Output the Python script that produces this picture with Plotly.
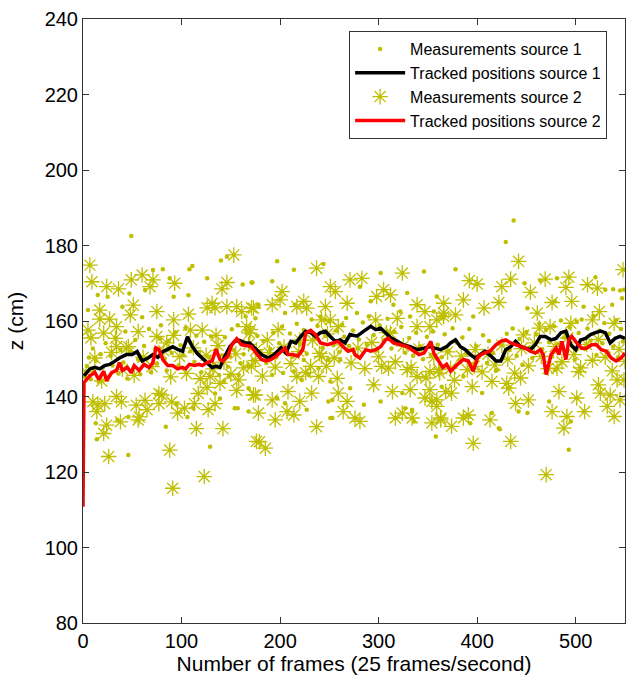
import plotly.graph_objects as go

# ---------------- data ----------------
# tracked positions, source 1 (black line): frame, z (cm)
track1_frame = [1, 7, 12, 17, 22, 27, 32, 37, 44, 50, 55, 60, 66, 71, 76, 81, 86, 91, 96, 101,
                106, 111, 116, 121, 126, 131, 135, 139, 144, 149, 154, 159, 164, 169, 174, 181,
                188, 194, 201, 206, 211, 216, 221, 226, 231, 236, 241, 246, 251, 256, 261, 266,
                271, 278, 285, 292, 297, 302, 307, 312, 319, 325, 332, 339, 346, 352, 357, 363,
                369, 373, 378, 383, 388, 393, 398, 403, 408, 414, 419, 424, 429, 434, 439, 444,
                449, 454, 459, 464, 469, 475, 480, 485, 490, 495, 500, 505, 510, 515, 520, 525,
                530, 535, 540, 545, 550]
track1_z = [145.5, 147.3, 147.7, 147.3, 148.2, 148.5, 149.3, 150.2, 151.1, 151.1, 151.9, 149.4,
            150.2, 151.1, 150.4, 151.9, 152.5, 153.2, 152.5, 152.0, 155.8, 153.2, 151.4, 150.2,
            149.0, 147.7, 148.0, 147.7, 150.7, 153.2, 154.6, 154.9, 154.2, 154.2, 152.9, 151.1,
            150.2, 151.1, 152.9, 151.5, 154.6, 154.2, 155.9, 157.3, 156.9, 155.9, 156.9, 157.3,
            155.9, 154.6, 155.0, 154.2, 156.4, 156.0, 157.3, 158.6, 157.7, 158.1, 156.9, 155.6,
            154.6, 153.7, 153.2, 152.4, 152.8, 153.2, 152.8, 152.4, 153.2, 154.2, 155.0, 153.2,
            152.4, 151.1, 150.2, 151.1, 152.0, 150.7, 149.4, 149.4, 152.4, 153.2, 154.6, 153.2,
            152.8, 152.4, 153.7, 155.9, 155.9, 155.0, 155.4, 156.9, 157.3, 153.7, 152.4, 155.0,
            155.4, 156.4, 156.9, 157.3, 156.9, 154.2, 155.4, 155.9, 155.4]

# tracked positions, source 2 (red line)
track2_frame = [0, 1, 2, 7, 12, 16, 21, 24, 29, 34, 37, 40, 45, 49, 52, 57, 62, 67, 71, 74, 77,
                81, 86, 91, 96, 101, 104, 108, 113, 118, 121, 126, 131, 135, 139, 142, 147, 151,
                156, 161, 166, 171, 176, 181, 186, 191, 196, 201, 205, 208, 213, 218, 223, 226,
                231, 236, 241, 248, 254, 259, 264, 269, 274, 276, 281, 287, 292, 297, 302, 307,
                310, 315, 322, 329, 336, 341, 346, 351, 353, 356, 361, 365, 369, 373, 380, 386,
                391, 396, 401, 407, 413, 419, 424, 429, 434, 439, 444, 449, 454, 459, 464, 467,
                470, 475, 480, 483, 486, 490, 493, 496, 501, 506, 511, 516, 521, 526, 531, 536,
                541, 546, 550]
track2_z = [110.8, 143.6, 144.0, 145.5, 146.4, 144.5, 146.7, 144.2, 146.3, 146.9, 149.0, 146.9,
            147.7, 146.3, 148.2, 146.9, 148.5, 147.7, 149.0, 152.9, 152.5, 149.8, 148.2, 148.2,
            147.3, 147.7, 147.3, 148.5, 148.2, 148.5, 148.2, 149.0, 149.4, 152.5, 149.8, 149.4,
            150.7, 153.7, 155.3, 153.7, 153.5, 153.2, 151.4, 149.8, 149.4, 149.8, 150.7, 152.0,
            152.8, 151.1, 151.1, 150.7, 152.4, 156.8, 157.5, 156.4, 154.2, 153.7, 154.2, 154.6,
            153.2, 152.0, 152.4, 151.1, 150.2, 152.4, 152.0, 152.4, 153.2, 155.0, 155.4, 154.2,
            153.7, 153.2, 152.0, 151.1, 151.5, 153.7, 154.6, 151.5, 149.4, 147.7, 148.5, 146.7,
            148.5, 149.8, 149.4, 146.7, 150.7, 151.5, 152.0, 153.7, 154.6, 155.0, 154.2, 153.7,
            153.2, 152.8, 152.0, 151.5, 152.4, 151.1, 145.8, 151.1, 152.8, 151.1, 154.6, 149.8,
            155.0, 155.9, 154.2, 152.8, 152.8, 153.7, 153.7, 152.4, 152.0, 150.2, 149.4, 150.2,
            151.5]

# measurements, source 1 (dots): (frame, z)
meas1 = [
    (49, 182.5), (5, 162.9), (15, 166.9), (25, 166.4), (47, 167.3), (71, 173.5), (81, 173.7),
    (88, 171.3), (92, 166.4), (108, 173.7), (111, 174.6), (126, 171.3), (140, 176.0),
    (146, 177.0), (162, 169.7), (172, 170.2), (107, 166.8), (63, 168.2), (60, 161.0),
    (79, 158.9), (40, 163.8), (46, 134.6), (13, 132.9), (14, 128.7), (35, 133.8), (46, 124.5),
    (84, 132.0), (129, 126.7), (95, 138.0), (157, 136.9), (168, 136.0), (106, 134.6),
    (134, 140.8), (112, 136.9),
    (197, 175.8), (214, 173.6), (244, 175.1), (192, 170.5), (171, 170.2), (346, 173.1),
    (302, 172.7), (281, 169.1), (329, 167.4), (292, 165.2), (241, 161.2), (178, 164.0),
    (205, 162.1), (359, 166.5), (366, 161.0), (192, 145.7), (224, 149.7), (203, 146.2),
    (251, 144.0), (205, 138.2), (227, 136.5), (249, 138.7), (253, 134.3), (271, 142.2),
    (285, 137.8), (302, 138.7), (324, 140.9), (334, 136.5), (358, 129.4), (336, 133.4),
    (197, 139.6),
    (437, 186.6), (429, 180.9), (378, 173.7), (448, 170.0), (464, 170.7), (481, 171.3),
    (520, 171.6), (538, 168.4), (545, 168.1), (451, 163.4), (479, 165.2), (363, 161.2),
    (396, 161.2), (501, 159.9), (530, 168.3), (493, 125.9), (423, 131.3), (415, 135.6),
    (442, 136.0), (405, 140.9), (393, 132.9), (495, 133.4), (473, 138.7), (508, 136.0),
    (364, 142.6), (386, 145.3), (547, 166.0), (549, 168.3),
    (165, 161.2), (175, 160.7), (215, 164.3), (178, 164.3), (246, 160.3), (263, 159.0),
    (268, 152.4), (160, 148.8), (168, 148.0), (149, 150.6), (158, 145.7), (214, 146.6),
    (222, 144.4), (229, 145.7), (239, 147.5), (249, 149.7), (261, 149.7), (138, 145.7),
    (148, 145.3), (168, 142.2), (253, 139.1), (251, 134.3), (154, 136.9), (139, 139.5),
    (143, 144.0),
    (315, 164.3), (332, 161.2), (278, 162.1), (322, 162.5), (334, 136.0), (327, 136.9),
    (356, 162.5), (508, 163.8), (537, 164.3), (479, 147.0), (420, 147.0), (451, 135.6),
    (422, 131.6),
    (2, 145.2), (4, 148.1), (6, 150.3), (8, 144.6), (10, 152.7), (11, 146.8), (13, 149.5),
    (16, 143.9), (18, 151.2), (20, 147.6), (23, 154.1), (26, 145.3), (28, 150.8), (30, 148.2),
    (33, 155.6), (36, 146.1), (38, 152.3), (41, 149.0), (43, 157.2), (45, 144.8), (48, 151.9),
    (51, 147.5), (53, 155.0), (56, 149.8), (58, 145.9), (62, 153.4), (65, 150.1), (67, 157.9),
    (69, 146.4), (73, 152.6), (75, 148.7), (78, 155.3), (83, 150.0), (85, 146.9), (87, 154.8),
    (90, 151.5), (94, 157.0), (97, 148.3), (99, 153.6), (102, 150.9), (104, 158.2),
    (109, 152.0), (113, 149.2), (115, 156.1), (118, 151.8), (120, 146.4), (123, 154.5),
    (128, 150.3), (130, 155.9), (133, 148.6), (136, 152.4), (141, 150.9), (144, 155.7),
    (147, 147.9), (151, 157.8), (153, 152.3), (157, 158.9), (160, 154.0), (163, 151.2),
    (166, 157.3), (170, 153.1), (173, 149.6), (177, 156.0), (180, 151.9), (183, 154.7),
    (186, 148.9), (190, 152.6), (193, 156.9), (196, 150.4), (199, 154.1), (202, 158.5),
    (207, 152.8), (210, 156.7), (213, 150.5), (217, 159.3), (220, 153.9), (224, 157.6),
    (227, 151.3), (232, 160.4), (235, 155.2), (238, 158.7), (243, 152.9), (246, 156.1),
    (250, 159.9), (254, 153.6), (257, 157.4), (260, 151.8), (265, 155.8), (267, 160.8),
    (270, 153.4), (274, 157.5), (277, 150.9), (280, 155.1), (284, 159.6), (288, 153.7),
    (290, 161.2), (295, 156.3), (298, 152.2), (301, 158.8), (305, 154.9), (309, 160.6),
    (313, 152.7), (316, 157.1), (320, 154.0), (323, 158.4), (327, 151.6), (331, 155.5),
    (335, 150.8), (338, 156.9), (342, 153.3), (345, 149.9), (349, 155.8), (353, 151.0),
    (355, 157.2), (360, 153.7), (364, 150.4), (367, 156.5), (371, 152.1), (375, 158.1),
    (379, 154.3), (382, 149.7), (385, 155.6), (389, 151.3), (392, 157.9), (395, 148.6),
    (399, 153.4), (402, 150.5), (406, 156.2), (410, 148.9), (412, 154.7), (416, 151.6),
    (419, 146.8), (423, 153.9), (426, 150.1), (430, 156.6), (433, 152.3), (436, 158.0),
    (440, 150.7), (443, 155.2), (446, 148.4), (450, 157.1), (453, 153.0), (456, 150.2),
    (460, 156.4), (463, 159.3), (466, 152.5), (470, 157.7), (473, 154.4), (476, 150.6),
    (478, 158.6), (482, 153.9), (485, 160.1), (488, 155.6), (491, 151.9), (494, 158.3),
    (497, 153.2), (499, 149.8), (503, 156.8), (506, 160.4), (509, 152.6), (512, 158.0),
    (515, 154.8), (518, 161.3), (521, 151.0), (524, 157.4), (527, 154.1), (529, 159.5),
    (532, 151.9), (534, 156.6), (538, 153.2), (541, 160.2), (543, 150.4), (546, 157.9),
    (548, 154.6),
]

# measurements, source 2 (asterisks): (frame, z)
meas2 = [
    (7, 174.8), (9, 170.4), (24, 169.1), (36, 168.5), (49, 170.9), (60, 172.2), (71, 170.9),
    (68, 169.1), (93, 170.0), (153, 177.5), (146, 170.2), (141, 168.5), (17, 162.9),
    (17, 160.5), (27, 160.5), (34, 158.5), (51, 164.2), (48, 161.6), (75, 162.5), (92, 160.3),
    (107, 161.8), (131, 164.7), (134, 163.5), (126, 163.5), (146, 163.8), (156, 163.8),
    (161, 162.5), (171, 163.5), (5, 157.6), (8, 155.5), (21, 156.8), (33, 155.4), (34, 153.2),
    (46, 153.2), (56, 157.2), (75, 155.9), (85, 154.2), (92, 156.2), (109, 157.6),
    (121, 157.6), (135, 156.2), (166, 158.5), (169, 156.8),
    (10, 138.6), (14, 136.0), (15, 137.7), (22, 138.1), (34, 140.0), (39, 138.6), (54, 137.7),
    (56, 133.8), (57, 134.6), (63, 139.0), (65, 136.5), (77, 140.8), (80, 140.4), (77, 138.1),
    (90, 138.6), (96, 135.6), (103, 136.9), (113, 138.1), (117, 140.8), (127, 136.5),
    (134, 138.1), (21, 130.2), (24, 132.4), (38, 133.3), (26, 124.1), (88, 125.8),
    (115, 131.5), (142, 131.5), (91, 115.7), (123, 118.8), (179, 128.0), (156, 141.6),
    (139, 143.5), (129, 145.3), (126, 142.4), (158, 144.4), (173, 140.4),
    (237, 174.0), (271, 170.9), (283, 171.3), (324, 172.7), (202, 167.8), (200, 165.6),
    (192, 164.3), (251, 169.1), (256, 167.8), (246, 163.8), (268, 164.7), (224, 165.2),
    (227, 163.4), (217, 163.8), (298, 166.5), (305, 168.3), (312, 166.9), (339, 164.3),
    (347, 162.5), (366, 162.1), (173, 163.4), (187, 155.0), (198, 157.7), (242, 160.3),
    (251, 160.3), (259, 158.5), (297, 160.3), (319, 160.7), (339, 158.5), (359, 160.3),
    (170, 157.7), (312, 156.8), (220, 155.0), (176, 152.4), (171, 148.0), (242, 150.6),
    (247, 148.0), (231, 148.0), (303, 148.0), (310, 147.5), (329, 147.1), (339, 145.3),
    (352, 146.6), (175, 140.4), (192, 139.1), (208, 141.3), (232, 140.9), (217, 145.3),
    (239, 145.3), (258, 144.8), (259, 140.9), (268, 138.7), (264, 136.0), (295, 143.1),
    (314, 141.3), (332, 141.8), (347, 139.6), (354, 138.7), (359, 137.4), (178, 135.6),
    (195, 133.8), (207, 136.0), (214, 135.1), (220, 138.7), (237, 132.0), (276, 134.3),
    (281, 133.4), (334, 134.3), (354, 133.0), (363, 134.3), (176, 128.1), (185, 126.3),
    (324, 135.6), (317, 134.3),
    (442, 175.8), (548, 173.6), (392, 170.7), (400, 169.8), (434, 171.1), (425, 169.1),
    (469, 171.1), (493, 171.6), (512, 169.6), (522, 168.7), (490, 168.9), (386, 165.6),
    (422, 164.9), (454, 167.6), (476, 164.9), (496, 165.2), (524, 162.5), (407, 163.4),
    (461, 162.1), (378, 161.6), (366, 161.2), (352, 158.5), (447, 156.3), (463, 158.1),
    (474, 158.5), (495, 159.4), (517, 160.3), (539, 159.4), (361, 147.1), (373, 147.5),
    (397, 148.0), (415, 144.0), (430, 143.5), (444, 144.9), (481, 147.5), (503, 146.6),
    (542, 144.4), (549, 144.4), (352, 141.8), (368, 141.3), (374, 140.9), (395, 142.6),
    (432, 142.2), (483, 141.3), (501, 139.6), (523, 143.1), (525, 140.9), (535, 140.4),
    (545, 139.1), (359, 139.1), (386, 134.3), (391, 135.1), (363, 133.8), (374, 132.1),
    (413, 133.8), (439, 138.2), (452, 139.1), (476, 136.0), (491, 134.7), (488, 131.6),
    (509, 136.0), (532, 137.4), (539, 134.7), (396, 127.6), (434, 128.1), (470, 119.3),
    (366, 164.7),
    (3, 146.5), (12, 150.2), (19, 144.1), (29, 151.7), (40, 147.2), (44, 152.8), (52, 145.6),
    (61, 150.4), (70, 147.9), (82, 152.1), (89, 145.2), (98, 150.6), (105, 146.1),
    (112, 152.9), (119, 144.7), (125, 150.9), (132, 147.3), (137, 153.5), (143, 149.1),
    (150, 145.9), (155, 151.3), (163, 147.6), (168, 153.8), (175, 149.5), (182, 145.4),
    (189, 151.6), (195, 147.8), (204, 153.1), (211, 148.7), (219, 151.9), (226, 146.3),
    (233, 154.9), (240, 151.4), (248, 156.6), (255, 150.2), (262, 153.7), (272, 148.9),
    (279, 152.8), (286, 147.4), (293, 154.3), (300, 150.5), (308, 156.9), (317, 149.2),
    (325, 153.4), (333, 147.7), (341, 152.6), (348, 144.9), (356, 150.3), (362, 146.2),
    (370, 151.8), (377, 144.3), (384, 150.7), (390, 147.1), (398, 152.4), (405, 146.5),
    (411, 151.2), (418, 148.3), (425, 153.6), (431, 149.9), (438, 146.2), (445, 152.7),
    (452, 148.1), (458, 154.2), (465, 150.6), (472, 147.4), (479, 153.3), (486, 149.2),
    (492, 155.5), (498, 151.1), (505, 147.6), (511, 153.8), (517, 149.6), (523, 155.1),
    (530, 150.4), (537, 146.8), (544, 152.5), (550, 149.3),
]

x_ticks = [0, 100, 200, 300, 400, 500]
y_ticks = [80, 100, 120, 140, 160, 180, 200, 220, 240]

# ---------------- figure ----------------
OLIVE = "#BFBF00"
FONT = "Liberation Sans, Arial, Helvetica, sans-serif"

fig = go.Figure()
fig.add_trace(go.Scatter(
    x=[p[0] for p in meas1], y=[p[1] for p in meas1], mode="markers",
    name="Measurements source 1", legendrank=1,
    marker=dict(symbol="circle", size=4.5, color=OLIVE, line=dict(width=0)),
))
fig.add_trace(go.Scatter(
    x=[p[0] for p in meas2], y=[p[1] for p in meas2], mode="markers",
    name="Measurements source 2", legendrank=3,
    marker=dict(symbol="asterisk-open", size=13, color=OLIVE, line=dict(width=1.3, color=OLIVE)),
))
fig.add_trace(go.Scatter(
    x=track1_frame, y=track1_z, mode="lines", name="Tracked positions source 1",
    legendrank=2, line=dict(color="black", width=3.5),
))
fig.add_trace(go.Scatter(
    x=track2_frame, y=track2_z, mode="lines", name="Tracked positions source 2",
    legendrank=4, line=dict(color="#FF0000", width=3.5),
))

axis_common = dict(
    showline=True, linecolor="#333333", linewidth=1, mirror="ticks",
    ticks="inside", ticklen=6, tickcolor="#333333", tickwidth=1,
    showgrid=False, zeroline=False,
    tickfont=dict(family=FONT, size=20, color="black"),
)

fig.update_layout(
    width=628, height=681,
    margin=dict(l=83, r=3, t=19, b=58, pad=0),
    paper_bgcolor="white", plot_bgcolor="white",
    font=dict(family=FONT, color="black"),
    xaxis=dict(range=[0, 550], tickvals=x_ticks,
               title=dict(text="Number of frames (25 frames/second)",
                          font=dict(family=FONT, size=21), standoff=2),
               **axis_common),
    yaxis=dict(range=[80, 240], tickvals=y_ticks,
               title=dict(text="z (cm)", font=dict(family=FONT, size=21), standoff=15),
               **axis_common),
    legend=dict(x=0.491, y=0.98, xanchor="left", yanchor="top",
                bgcolor="white", bordercolor="#333333", borderwidth=1,
                font=dict(family=FONT, size=16, color="black"),
                itemwidth=50, tracegroupgap=0),
    showlegend=True,
)

fig.write_html("out.html", config={"displayModeBar": False},
               post_script="document.body.style.margin='0';document.body.style.padding='0';")
